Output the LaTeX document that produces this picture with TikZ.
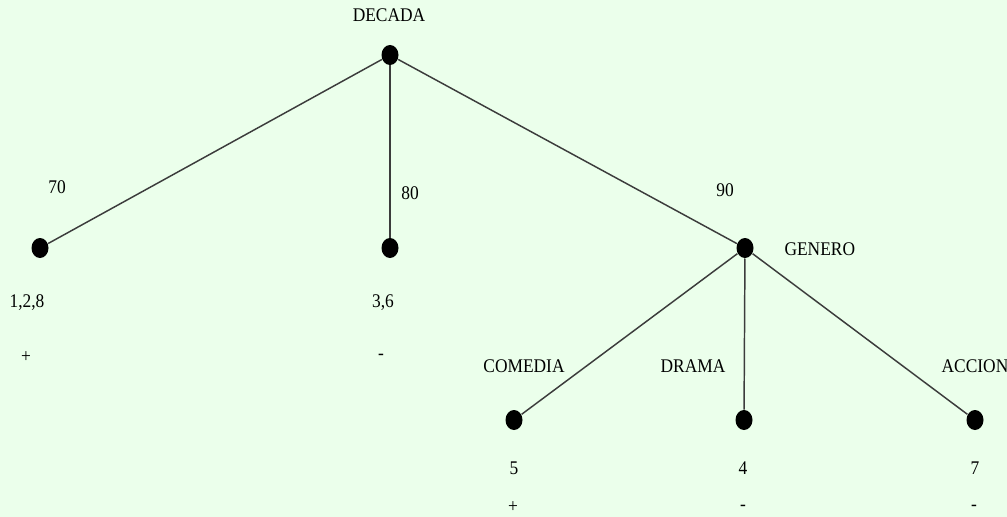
\documentclass[tikz,border=0pt]{standalone}
\usepackage{fontspec}
\setmainfont[FakeStretch=0.9]{Liberation Serif}
\usetikzlibrary{shapes.geometric}

\tikzset{every picture/.style={line width=0.75pt}}
\tikzset{
  dot/.style={ellipse,fill=black,inner sep=0pt,minimum width=12.75pt,minimum height=15pt},
  rama/.style={color={rgb, 255:red, 60; green, 60; blue, 60 },line width=1.1pt},
  lbl/.style={inner sep=0.75pt,font=\fontsize{14.5}{17}\selectfont}
}

\begin{document}
\begin{tikzpicture}[x=0.75pt,y=0.75pt,yscale=-1,xscale=1]
%background
\fill [color={rgb, 255:red, 235; green, 255; blue, 235 }] (0,0) rectangle (1007,517);
\useasboundingbox (0,0) rectangle (1007,517);

%Shape: Dots
\node [dot] (decada) at (390,55) {};
\node [dot] (n70) at (40,248) {};
\node [dot] (n80) at (390,248) {};
\node [dot] (genero) at (745,248) {};
\node [dot] (comedia) at (514,420) {};
\node [dot] (drama) at (744,420) {};
\node [dot] (accion) at (975,420) {};

%Straight Lines
\draw [rama] (decada) -- (n70) ;
\draw [rama] (decada) -- (n80) ;
\draw [rama] (decada) -- (genero) ;
\draw [rama] (genero) -- (comedia) ;
\draw [rama] (genero) -- (drama) ;
\draw [rama] (genero) -- (accion) ;

% Text Node
\node [lbl] (tdecada) at (389,15) {DECADA};
% Text Node
\node [lbl] (t70) at (57,187) {70};
% Text Node
\node [lbl] (t80) at (410,193) {80};
% Text Node
\node [lbl] (t90) at (725,190) {90};
% Text Node
\node [lbl,anchor=west] (tgenero) at (783,249) {GENERO};
% Text Node
\node [lbl] (e1) at (27,303) {1,2,8};
\node [lbl] (s1) at (26,357) {+};
% Text Node
\node [lbl] (e2) at (383,303) {3,6};
\node [lbl] (s2) at (381,357) {-};
% Text Node
\node [lbl] (tcomedia) at (524,366) {COMEDIA};
\node [lbl] (tdrama) at (693,366) {DRAMA};
\node [lbl] (taccion) at (975,366) {ACCION};
% Text Node
\node [lbl] (e5) at (514,468) {5};
\node [lbl] (s5) at (513,507) {+};
\node [lbl] (e4) at (743,468) {4};
\node [lbl] (s4) at (743,508) {-};
\node [lbl] (e7) at (975,468) {7};
\node [lbl] (s7) at (974,508) {-};

\end{tikzpicture}
\end{document}
